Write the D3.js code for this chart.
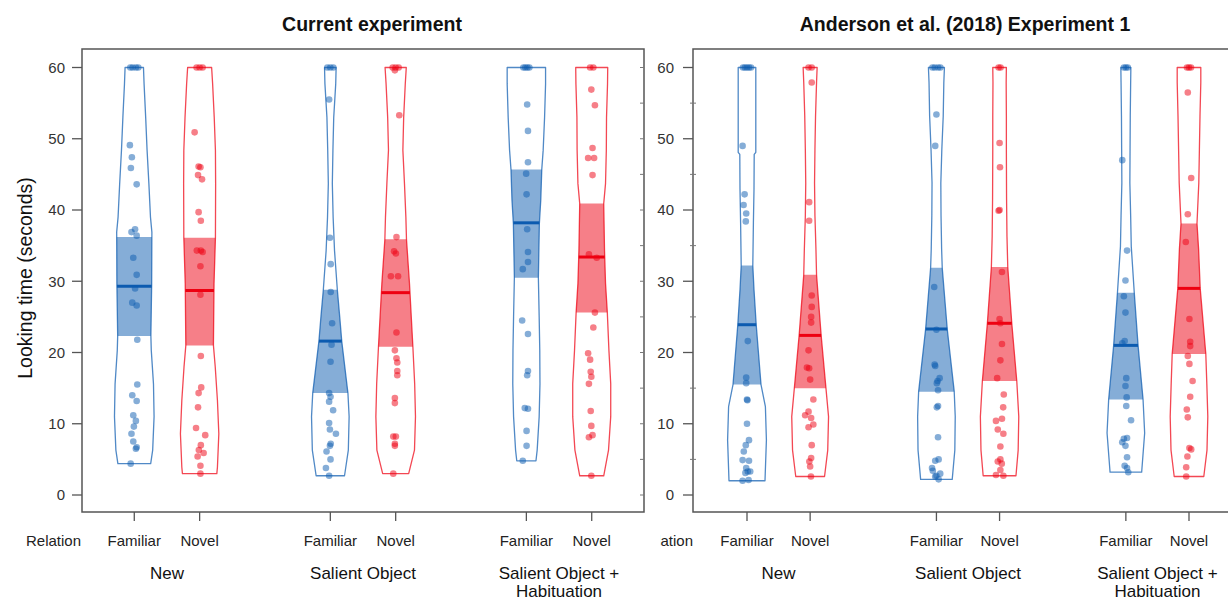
<!DOCTYPE html>
<html>
<head>
<meta charset="utf-8">
<script src="https://cdn.jsdelivr.net/npm/d3@7"></script>
<style>
  html, body { margin: 0; padding: 0; background: #fff; }
  svg { display: block; font-family: "Liberation Sans", Arial, sans-serif; }
</style>
</head>
<body>
<svg id="chart" width="1228" height="601"></svg>
<script>
// ---------------- data ----------------
const panelTitles = ["Current experiment", "Anderson et al. (2018) Experiment 1"];
const conditionLabels = [["New"], ["Salient Object"], ["Salient Object +", "Habituation"]];
const relations = ["Familiar", "Novel"];
const relationHeader = "Relation";
const yTicks = [0, 10, 20, 30, 40, 50, 60];
const yLabel = "Looking time (seconds)";

// bean order: New-Familiar, New-Novel, Salient-Familiar, Salient-Novel, Sal+Hab-Familiar, Sal+Hab-Novel
const currentMeans     = [29.3, 28.7, 21.6, 28.4, 38.2, 33.4];
const currentBandLow   = [22.3, 21.0, 14.3, 20.8, 30.5, 25.6];
const currentBandHigh  = [36.2, 36.1, 28.8, 35.9, 45.7, 40.9];
const andersonMeans    = [23.9, 22.4, 23.3, 24.1, 21.0, 29.0];
const andersonBandLow  = [15.5, 15.0, 14.5, 16.0, 13.4, 19.8];
const andersonBandHigh = [32.2, 30.9, 31.9, 32.0, 28.4, 38.1];

// bean density profiles: [looking time, relative density]
const currentDensity = [
  [[4.4,.82],[6.3,.92],[11,.99],[15.6,.96],[20.3,.85],[22.3,.83],[29.7,.87],[36.9,.88],[39,.81],[43.7,.73],[48.4,.64],[53,.57],[57.7,.49],[60,.46]],
  [[3,.86],[3.9,.89],[8.6,.96],[13.3,.89],[18,.78],[21,.69],[29.7,.72],[36.1,.79],[43.7,.8],[48.4,.79],[53,.73],[57.7,.65],[60,.6]],
  [[2.7,.71],[6.3,.9],[11,.94],[14.3,.88],[21.6,.57],[25,.47],[28.8,.35],[34.3,.21],[39,.14],[43.7,.1],[48.4,.13],[53,.17],[57.7,.27],[60,.29]],
  [[3,.65],[6.3,.94],[11,.99],[15.6,.95],[20.8,.86],[29.7,.69],[35.9,.54],[39,.51],[43.7,.44],[48.4,.36],[53,.4],[57.7,.48],[60,.53]],
  [[4.8,.48],[6.3,.54],[11,.64],[15.6,.68],[20.3,.67],[25,.64],[30.5,.6],[38.1,.65],[41.4,.72],[45.7,.77],[48.4,.84],[53,.91],[57.7,.96],[60,.96]],
  [[2.7,.6],[6.3,.84],[11,.95],[15.6,.95],[20.3,.86],[25.6,.78],[29.7,.69],[34.3,.64],[40.9,.6],[43.7,.69],[48.4,.73],[53,.74],[57.7,.79],[60,.8]]
];
const andersonDensity = [
  [[2,.9],[7.7,.97],[12.4,.92],[15.5,.7],[23.9,.46],[28.8,.35],[32.2,.29],[38.2,.32],[42.9,.35],[47.8,.36],[48.1,.44],[60,.44]],
  [[2.6,.72],[6.3,.88],[11,.92],[15,.79],[22.4,.55],[30.9,.32],[34.5,.29],[39.2,.24],[43.8,.22],[48.5,.24],[53.2,.27],[57.9,.32],[60,.35]],
  [[2.2,.79],[6.3,.92],[11,.94],[14.5,.89],[23.3,.54],[31.9,.29],[34.5,.26],[39.2,.23],[43.8,.22],[48.5,.27],[53.2,.34],[57.9,.37],[60,.4]],
  [[2.7,.82],[6.3,.93],[11,.96],[16,.86],[24.1,.61],[32,.41],[36.3,.37],[41.5,.35],[48.5,.34],[53.2,.34],[57.9,.33],[60,.34]],
  [[3.2,.79],[8.7,.94],[13.4,.86],[21,.61],[28.4,.42],[34.9,.27],[39.2,.24],[43.8,.2],[48.5,.21],[53.2,.22],[57.9,.24],[60,.25]],
  [[2.6,.74],[6.3,.9],[11,.94],[15.7,.89],[19.8,.84],[29,.56],[34.5,.48],[38.1,.4],[43.8,.49],[48.5,.52],[53.2,.55],[57.9,.59],[60,.59]]
];

// individual looking times: [seconds, jitter in % of bean half-width]
const curNewFam = [[60,-20],[60,-8],[60,8],[60,20],[49.1,-22],[47.4,-12],[45.9,-17],[43.6,12],[37.3,4],[36.9,-14],[36.4,12],[33.3,-5],[30.9,12],[29.0,4],[27.0,-10],[26.6,12],[21.8,15],[15.5,15],[14.0,-10],[13.2,12],[11.2,-5],[10.4,8],[9.6,-2],[8.6,-14],[7.5,-5],[6.7,12],[6.5,8],[4.4,-18]];
const curNewNov = [[60,-15],[60,0],[60,15],[50.9,-25],[46.1,-5],[46.0,4],[44.9,-8],[44.3,12],[39.7,-5],[38.5,6],[34.3,-14],[34.3,6],[34.1,15],[32.1,4],[28.1,4],[19.5,6],[15.1,8],[14.3,-5],[12.3,-8],[9.4,-18],[8.4,28],[7.0,6],[6.3,-4],[5.9,20],[5.4,-10],[4.1,4],[3.0,4]];
const curSalFam = [[60,-15],[60,0],[60,15],[55.5,-6],[36.1,-2],[32.4,2],[28.5,2],[24.1,9],[21.1,6],[18.7,1],[14.3,-6],[13.8,1],[13.1,-6],[11.9,14],[10.1,-6],[9.2,-2],[8.6,28],[7.2,2],[6.9,-2],[6.1,-19],[5.0,1],[3.8,-22],[2.7,-6]];
const curSalNov = [[60,-15],[60,0],[60,15],[59.6,-4],[53.3,18],[36.2,4],[34.2,-8],[33.9,1],[30.7,-24],[30.7,12],[22.8,4],[20.3,-4],[19.2,4],[18.6,8],[17.4,8],[16.8,8],[13.6,-4],[12.9,-4],[8.2,-12],[8.2,1],[7.2,-4],[6.9,-4],[3.0,-12]];
const curHabFam = [[60,-15],[60,-5],[60,5],[60,15],[54.8,4],[51.1,8],[46.7,8],[45.1,-1],[42.2,1],[37.3,4],[34.1,8],[32.7,8],[31.7,-18],[24.5,-21],[22.6,8],[17.4,8],[16.8,4],[12.2,-8],[12.1,8],[9.0,1],[6.9,1],[4.8,-18]];
const curHabNov = [[60,-8],[60,8],[56.9,-2],[54.7,16],[48.7,4],[47.3,-18],[47.3,12],[44.9,4],[33.8,-14],[33.3,25],[25.6,16],[23.5,8],[19.9,-18],[19.0,-8],[17.3,-5],[16.6,-2],[15.6,-14],[11.8,-5],[9.7,-2],[8.4,4],[8.1,-14],[2.7,-2]];

const andNewFam = [[60,-20],[60,-10],[60,0],[60,10],[60,20],[49.0,-22],[42.2,-12],[40.7,-17],[39.5,-4],[38.4,-6],[21.6,4],[16.5,-4],[15.7,-4],[13.4,0],[13.3,2],[10.0,0],[7.7,10],[7.0,-6],[6.1,-16],[4.9,-22],[4.8,10],[3.8,-4],[3.3,4],[3.3,16],[3.1,-8],[2.1,8],[2.0,-22]];
const andNewNov = [[60,-8],[60,8],[57.9,8],[41.1,-5],[38.5,-5],[28.0,8],[26.4,8],[25.0,5],[24.2,5],[20.3,-8],[17.9,-16],[17.8,-5],[16.2,0],[13.4,16],[11.7,-8],[11.2,-25],[10.8,5],[9.9,16],[9.5,-8],[7.0,8],[5.2,5],[4.7,-4],[4.0,0],[2.6,4]];
const andSalFam = [[60,-20],[60,-8],[60,8],[60,20],[53.4,0],[49.0,-6],[29.2,-11],[23.2,0],[18.3,-9],[18.1,-6],[16.4,16],[16.0,6],[15.7,2],[14.7,8],[12.5,8],[12.3,2],[8.1,8],[5.0,11],[4.8,-6],[3.8,-22],[3.4,-18],[3.0,19],[2.7,0],[2.6,-6],[2.2,11]];
const andSalNov = [[60,-5],[60,5],[49.4,0],[46.0,2],[40.0,0],[39.9,-5],[31.3,12],[24.7,0],[24.1,4],[21.2,12],[18.9,4],[16.4,-12],[14.1,21],[12.3,18],[10.7,12],[10.4,-18],[9.2,-9],[8.6,19],[6.8,4],[5.0,4],[4.7,-9],[4.4,11],[3.5,4],[2.8,-18],[2.7,19]];
const andHabFam = [[60,-10],[60,0],[60,10],[47.0,-18],[34.3,6],[30.1,-2],[27.9,-10],[25.6,-2],[21.6,-6],[21.3,-18],[16.4,2],[15.3,-2],[13.7,4],[12.5,2],[10.5,26],[8.0,6],[7.9,-10],[7.4,-18],[6.9,-2],[5.3,6],[4.1,-6],[3.8,6],[3.2,12]];
const andHabNov = [[60,-10],[60,0],[60,10],[56.5,-6],[44.5,11],[39.4,-6],[35.5,-16],[24.7,2],[21.5,6],[20.9,6],[19.5,-6],[18.4,2],[16.0,18],[13.8,6],[12.0,-11],[10.9,-6],[6.6,2],[6.4,11],[5.4,-8],[3.9,-14],[2.6,-14]];

// ---------------- drawing ----------------
const relationColor = { Familiar: "#0C5BB0", Novel: "#EE0011" };
const svg = d3.select("#chart");

const y = d3.scaleLinear().domain([0, 60]).range([495, 67.5]);
const w = d3.scaleLinear().domain([0, 1]).range([0, 20]);   // relative density -> half-width
const closed = d3.line().curve(d3.curveLinearClosed);

const panels = [
  {
    title: panelTitles[0], titleX: 372,
    frame: [82, 644],
    x: d3.scaleLinear().domain([0.2, 8.8]).range([82, 644]),
    tickLabelX: 65, relationX: 53.5, clipLeft: null,
    means: currentMeans, lo: currentBandLow, hi: currentBandHigh, density: currentDensity,
    points: [curNewFam, curNewNov, curSalFam, curSalNov, curHabFam, curHabNov]
  },
  {
    title: panelTitles[1], titleX: 965,
    frame: [693, 1240],
    x: d3.scaleLinear().domain([1, 8]).range([747, 1189]),
    tickLabelX: 674, relationX: 665.5, clipLeft: 660,
    means: andersonMeans, lo: andersonBandLow, hi: andersonBandHigh, density: andersonDensity,
    points: [andNewFam, andNewNov, andSalFam, andSalNov, andHabFam, andHabNov]
  }
];

const frameTop = 49, frameBottom = 512;

panels.forEach((p, pi) => {
  const g = svg.append("g");

  // title
  g.append("text")
    .attr("x", p.titleX).attr("y", 31)
    .attr("text-anchor", "middle")
    .attr("font-weight", "bold").attr("font-size", 19.5)
    .attr("fill", "#111")
    .text(p.title);

  // frame
  g.append("rect")
    .attr("x", p.frame[0]).attr("y", frameTop)
    .attr("width", p.frame[1] - p.frame[0]).attr("height", frameBottom - frameTop)
    .attr("fill", "none").attr("stroke", "#555").attr("stroke-width", 1.5);

  // y axis
  const yAxis = g.append("g");
  yTicks.forEach(t => {
    yAxis.append("line")
      .attr("x1", p.frame[0] - 10).attr("x2", p.frame[0])
      .attr("y1", y(t)).attr("y2", y(t))
      .attr("stroke", "#555").attr("stroke-width", 1.3);
    yAxis.append("text")
      .attr("x", p.tickLabelX).attr("y", y(t))
      .attr("dy", "0.36em").attr("text-anchor", "end")
      .attr("font-size", 15).attr("fill", "#333")
      .text(t);
  });

  // small inner marks along the frame sides
  d3.range(0, 61, 5).forEach(t => {
    if (pi === 0) {
      g.append("line")
        .attr("x1", p.frame[1] - 4).attr("x2", p.frame[1])
        .attr("y1", y(t)).attr("y2", y(t))
        .attr("stroke", "#777").attr("stroke-width", 1);
    } else if (t % 10 !== 0) {
      g.append("line")
        .attr("x1", p.frame[0] - 3).attr("x2", p.frame[0] + 3)
        .attr("y1", y(t)).attr("y2", y(t))
        .attr("stroke", "#777").attr("stroke-width", 1);
    }
  });

  // beans
  p.density.forEach((prof, i) => {
    const cond = Math.floor(i / 2), rel = relations[i % 2];
    const col = relationColor[rel];
    const cx = p.x(cond * 3 + (i % 2) + 1);
    const hw = d3.scaleLinear().domain(prof.map(d => d[0])).range(prof.map(d => d[1])).clamp(true);
    const outline = prof.map(d => [cx - w(d[1]), y(d[0])])
      .concat(prof.slice().reverse().map(d => [cx + w(d[1]), y(d[0])]));

    // inference band clipped to the bean shape
    const lo = p.lo[i], hi = p.hi[i];
    const inner = [[lo, hw(lo)]].concat(prof.filter(d => d[0] > lo && d[0] < hi)).concat([[hi, hw(hi)]]);
    const band = inner.map(d => [cx - w(d[1]), y(d[0])])
      .concat(inner.slice().reverse().map(d => [cx + w(d[1]), y(d[0])]));

    g.append("path").attr("d", closed(band))
      .attr("fill", col).attr("fill-opacity", 0.5).attr("stroke", "none");

    g.append("path").attr("d", closed(outline))
      .attr("fill", "none").attr("stroke", col)
      .attr("stroke-opacity", 0.72).attr("stroke-width", 1.3)
      .attr("stroke-linejoin", "round");

    g.append("g").selectAll("circle")
      .data(p.points[i]).join("circle")
      .attr("cx", d => cx + w(d[1] / 100))
      .attr("cy", d => y(d[0]))
      .attr("r", 3.3)
      .attr("fill", col).attr("fill-opacity", 0.5);

    const m = p.means[i];
    g.append("line")
      .attr("x1", cx - w(hw(m))).attr("x2", cx + w(hw(m)))
      .attr("y1", y(m)).attr("y2", y(m))
      .attr("stroke", col).attr("stroke-width", 3);

    // x tick and relation label
    g.append("line")
      .attr("x1", cx).attr("x2", cx)
      .attr("y1", frameBottom).attr("y2", frameBottom + 9)
      .attr("stroke", "#555").attr("stroke-width", 1.3);
    g.append("text")
      .attr("x", cx).attr("y", 541).attr("dy", "0.36em")
      .attr("text-anchor", "middle").attr("font-size", 15).attr("fill", "#222")
      .text(rel);
  });

  // condition labels
  conditionLabels.forEach((lines, c) => {
    const cx = p.x(c * 3 + 1.5);
    const t = g.append("text")
      .attr("x", cx).attr("y", 572.5)
      .attr("text-anchor", "middle").attr("font-size", 17).attr("fill", "#111");
    lines.forEach((ln, k) => {
      t.append("tspan").attr("x", cx).attr("dy", k === 0 ? "0.36em" : 18.5).text(ln);
    });
  });

  // row header
  let header = g;
  if (p.clipLeft !== null) {
    svg.append("clipPath").attr("id", "hdrClip" + pi)
      .append("rect").attr("x", p.clipLeft).attr("y", 520).attr("width", 80).attr("height", 40);
    header = g.append("g").attr("clip-path", `url(#hdrClip${pi})`);
  }
  header.append("text")
    .attr("x", p.relationX).attr("y", 541).attr("dy", "0.36em")
    .attr("text-anchor", "middle").attr("font-size", 15).attr("fill", "#222")
    .text(relationHeader);
});

// y axis title
svg.append("text")
  .attr("transform", "translate(25,278) rotate(-90)")
  .attr("text-anchor", "middle").attr("dy", "0.36em")
  .attr("font-size", 19.5).attr("fill", "#111")
  .text(yLabel);
</script>
</body>
</html>
